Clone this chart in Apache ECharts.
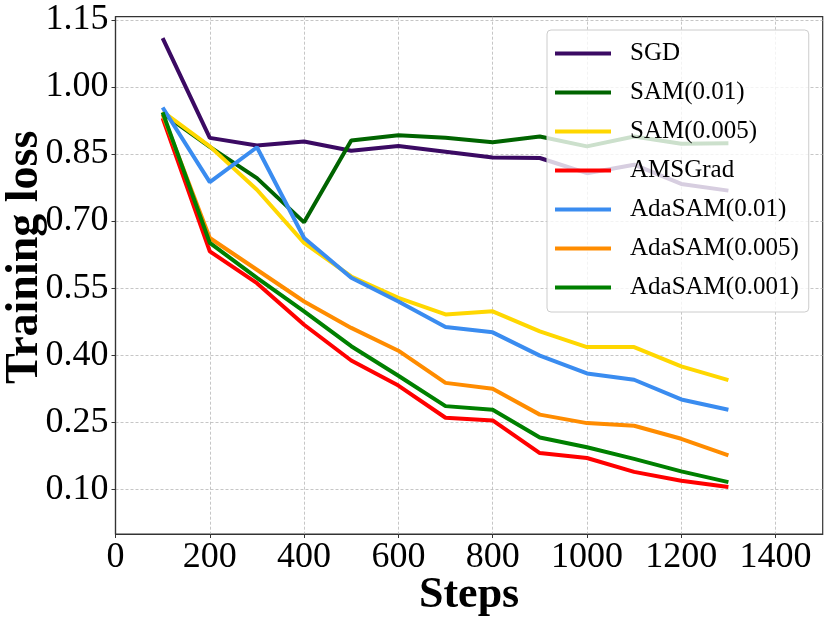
<!DOCTYPE html>
<html>
<head>
<meta charset="utf-8">
<script src="https://cdn.jsdelivr.net/npm/echarts@6/dist/echarts.min.js"></script>
<style>
  html, body { margin: 0; padding: 0; background: #fff; }
  #myChart { width: 830px; height: 621px; }
</style>
</head>
<body>
<div id="myChart"></div>
<script>
// 训练步数
var steps = [100, 200, 300, 400, 500, 600, 700, 800, 900, 1000, 1100, 1200, 1300];

var sgd        = [1.109, 0.886, 0.869, 0.878, 0.857, 0.868, 0.855, 0.842, 0.841, 0.807, 0.826, 0.783, 0.768];
var sam001     = [0.941, 0.866, 0.796, 0.697, 0.880, 0.892, 0.886, 0.876, 0.889, 0.867, 0.889, 0.873, 0.874];
var sam0005    = [0.945, 0.867, 0.770, 0.651, 0.576, 0.528, 0.491, 0.498, 0.453, 0.418, 0.418, 0.375, 0.344];
var amsgrad    = [0.930, 0.632, 0.561, 0.468, 0.388, 0.332, 0.260, 0.254, 0.181, 0.170, 0.139, 0.119, 0.105];
var adasam001  = [0.954, 0.787, 0.865, 0.662, 0.573, 0.520, 0.463, 0.451, 0.399, 0.359, 0.345, 0.301, 0.278];
var adasam0005 = [0.938, 0.662, 0.591, 0.520, 0.461, 0.410, 0.338, 0.325, 0.267, 0.248, 0.242, 0.213, 0.176];
var adasam0001 = [0.943, 0.651, 0.573, 0.498, 0.420, 0.354, 0.286, 0.278, 0.216, 0.194, 0.168, 0.140, 0.116];

var names  = ['SGD', 'SAM(0.01)', 'SAM(0.005)', 'AMSGrad', 'AdaSAM(0.01)', 'AdaSAM(0.005)', 'AdaSAM(0.001)'];
var values = [sgd, sam001, sam0005, amsgrad, adasam001, adasam0005, adasam0001];
var colors = ['#3b0a63', '#006400', '#ffd700', '#ff0000', '#3a8cf0', '#ff8c00', '#008000'];

// 刻度
var yTicks = [0.10, 0.25, 0.40, 0.55, 0.70, 0.85, 1.00, 1.15];
var xTicks = [0, 200, 400, 600, 800, 1000, 1200, 1400];

var dom = document.getElementById("myChart");
var myChart = echarts.init(dom);

var series = [];
for (var i = 0; i < names.length; i++) {
    var data = [];
    for (var j = 0; j < steps.length; j++) {
        data.push([steps[j], values[i][j]]);
    }
    series.push({
        name: names[i],
        type: 'line',
        symbol: 'none',
        data: data,
        lineStyle: { width: 4, color: colors[i] },
        itemStyle: { color: colors[i] }
    });
}

var font = 'Liberation Serif';
var gridLine = { show: true, lineStyle: { color: '#b8b8b8', width: 0.8, type: [3, 2] } };

var option = {
    animation: false,
    color: colors,
    grid: {
        left: 115.5, right: 7.3, top: 16.7, bottom: 87,
        containLabel: false,
        outerBoundsMode: 'none',
        show: true, borderColor: '#333', borderWidth: 1.2
    },
    legend: {
        data: names,
        orient: 'vertical',
        left: 547, top: 30,
        padding: [11, 10, 12, 8],
        itemWidth: 56, itemHeight: 4, itemGap: 14,
        icon: 'rect',
        backgroundColor: 'rgba(255,255,255,0.8)',
        borderColor: '#cccccc', borderWidth: 1, borderRadius: 4,
        textStyle: { fontFamily: font, fontSize: 25, lineHeight: 24, color: '#000', padding: [0, 0, 0, 14] }
    },
    xAxis: {
        type: 'value',
        min: 0, max: 1500,
        name: 'Steps',
        nameLocation: 'middle',
        nameGap: 40,
        nameMoveOverlap: false,
        nameTextStyle: { fontFamily: font, fontSize: 44, fontWeight: 'bold', color: '#000' },
        axisLine: { show: true, lineStyle: { color: '#333', width: 1.2 } },
        axisTick: { show: true, length: 4, customValues: xTicks, lineStyle: { color: '#333' } },
        axisLabel: {
            customValues: xTicks, fontFamily: font, fontSize: 36, color: '#000', margin: 6,
            formatter: function (v) { return String(v); }
        },
        splitLine: gridLine
    },
    yAxis: {
        type: 'value',
        min: 0, max: 1.157,
        name: 'Training loss',
        nameLocation: 'middle',
        nameGap: 67,
        nameMoveOverlap: false,
        nameTextStyle: { fontFamily: font, fontSize: 46, fontWeight: 'bold', color: '#000', padding: [0, 0, 0, 36] },
        axisLine: { show: true, lineStyle: { color: '#333', width: 1.2 } },
        axisTick: { show: true, length: 4, customValues: yTicks, lineStyle: { color: '#333' } },
        axisLabel: {
            customValues: yTicks, fontFamily: font, fontSize: 36, color: '#000', margin: 7,
            formatter: function (v) { return v.toFixed(2); }
        },
        splitLine: gridLine
    },
    series: series
};

if (option && typeof option === "object") {
    myChart.setOption(option, true);
}
</script>
</body>
</html>
